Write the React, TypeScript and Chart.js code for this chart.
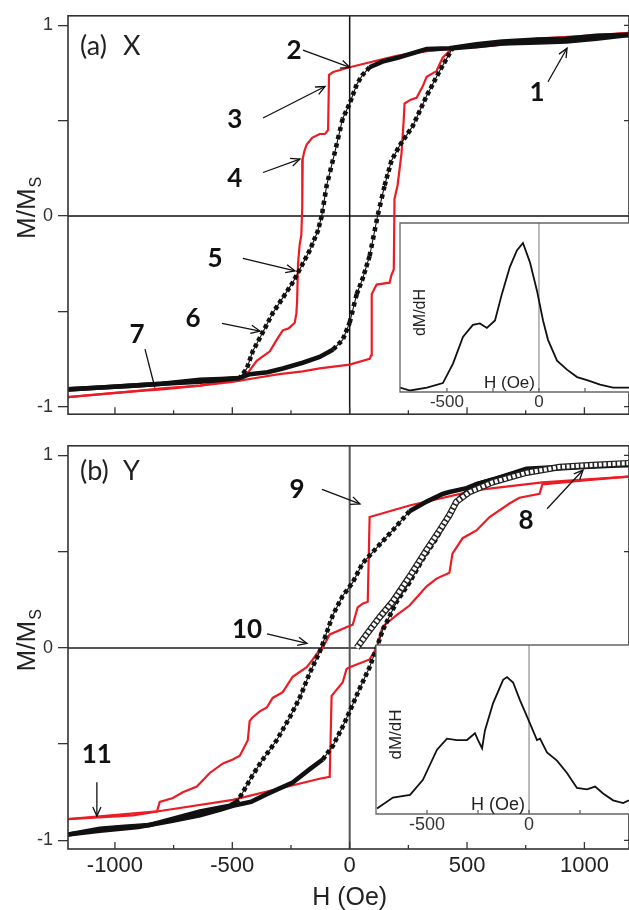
import React, { useEffect, useRef } from "react";
import { Chart, registerables } from "chart.js";

Chart.register(...registerables);

// ---------------- axes ----------------
const X_MIN = -1200;
const X_MAX = 1190;
const X_TICKS = [-1000, -750, -500, -250, 0, 250, 500, 750, 1000];
const X_LABELED = [-1000, -500, 0, 500, 1000];
const Y_TICKS = [-1, -0.5, 0, 0.5, 1];
const Y_LABELED = [-1, 0, 1];
const INSET_TICKS = [-500, -250, 0, 250];
const INSET_LABELED = [-500, 0];

// ---------------- panel (a) X ----------------
const A_BLK_DN_H = [1190, 1050, 923, 800, 650, 540, 425, 328, 204, 140, 85, 55, 30, 0, -30, -64, -98, -119, -136, -170, -204, -243, -285, -328, -370, -413, -438, -468, -550, -638, -800, -923, -1060, -1200];
const A_BLK_DN_M = [0.95, 0.945, 0.93, 0.925, 0.915, 0.9, 0.88, 0.875, 0.83, 0.81, 0.78, 0.74, 0.69, 0.59, 0.51, 0.33, 0.16, 0.0, -0.08, -0.18, -0.26, -0.35, -0.43, -0.51, -0.61, -0.71, -0.8, -0.85, -0.855, -0.86, -0.88, -0.89, -0.9, -0.91];
const A_BLK_UP_H = [-1200, -1060, -923, -800, -638, -550, -468, -426, -350, -285, -200, -128, -70, -30, 0, 30, 55, 85, 119, 149, 178, 213, 268, 328, 383, 438, 540, 650, 800, 923, 1050, 1190];
const A_BLK_UP_M = [-0.91, -0.9, -0.89, -0.88, -0.87, -0.86, -0.85, -0.83, -0.82, -0.8, -0.77, -0.74, -0.7, -0.65, -0.56, -0.41, -0.33, -0.21, 0.0, 0.16, 0.29, 0.37, 0.47, 0.63, 0.76, 0.88, 0.89, 0.905, 0.91, 0.915, 0.93, 0.95];
const A_RED_DN_H = [1190, 1000, 800, 600, 468, 330, 200, 100, 0, -70, -88, -92, -106, -128, -160, -183, -193, -200, -202, -206, -213, -220, -224, -227, -234, -260, -285, -311, -340, -396, -438, -500, -638, -800, -923, -1060, -1200];
const A_RED_DN_M = [0.96, 0.945, 0.93, 0.905, 0.88, 0.865, 0.84, 0.81, 0.78, 0.755, 0.74, 0.45, 0.43, 0.43, 0.41, 0.375, 0.34, 0.3, 0.05, -0.1, -0.15, -0.25, -0.45, -0.51, -0.56, -0.59, -0.6, -0.65, -0.71, -0.76, -0.83, -0.86, -0.89, -0.91, -0.92, -0.935, -0.95];
const A_RED_UP_H = [-1200, -923, -800, -638, -500, -400, -300, -200, -128, 0, 85, 92, 94, 115, 170, 178, 188, 191, 204, 221, 230, 234, 260, 285, 311, 328, 370, 396, 438, 540, 700, 900, 1050, 1190];
const A_RED_UP_M = [-0.95, -0.92, -0.905, -0.89, -0.87, -0.85, -0.83, -0.815, -0.8, -0.78, -0.75, -0.73, -0.41, -0.36, -0.35, -0.31, -0.28, 0.09, 0.16, 0.33, 0.5, 0.59, 0.61, 0.62, 0.68, 0.73, 0.76, 0.83, 0.88, 0.885, 0.905, 0.93, 0.945, 0.96];
// inset (a): dM/dH
const A_INSET_H = [-755, -700, -609, -522, -467, -413, -359, -321, -283, -239, -201, -158, -120, -87, -49, -11, 22, 49, 98, 152, 207, 261, 332, 402, 489];
const A_INSET_V = [0.03, 0.01, 0.03, 0.06, 0.19, 0.37, 0.45, 0.46, 0.43, 0.48, 0.66, 0.84, 0.95, 1.0, 0.87, 0.68, 0.48, 0.35, 0.21, 0.15, 0.1, 0.08, 0.05, 0.03, 0.03];
// annotations (a)
const A_NOTE_TEXT = ["1", "2", "3", "4", "5", "6", "7"];
const A_NOTE_H = [798, -237, -489, -489, -574, -667, -906];
const A_NOTE_M = [0.649, 0.865, 0.504, 0.198, -0.223, -0.539, -0.624];
const A_ARR_FROM_H = [845, -199, -369, -369, -455, -544, -872];
const A_ARR_FROM_M = [0.704, 0.87, 0.514, 0.228, -0.223, -0.564, -0.699];
const A_ARR_TO_H = [926, 1, -105, -212, -233, -382, -830];
const A_ARR_TO_M = [0.88, 0.779, 0.679, 0.298, -0.288, -0.604, -0.9];
const A_ARR_HEAD = [true, true, true, true, true, true, false];

// ---------------- panel (b) Y ----------------
const B_BLK_DN_H = [1187, 1034, 894, 753, 626, 540, 498, 425, 396, 328, 255, 183, 115, 55, 13, -30, -72, -115, -128, -170, -213, -255, -311, -370, -413, -455, -481, -511, -638, -760, -851, -960, -1064, -1200];
const B_BLK_DN_M = [0.95, 0.95, 0.94, 0.93, 0.88, 0.85, 0.83, 0.81, 0.8, 0.76, 0.71, 0.61, 0.52, 0.44, 0.34, 0.27, 0.17, 0.02, -0.02, -0.13, -0.26, -0.36, -0.48, -0.58, -0.66, -0.75, -0.8, -0.82, -0.85, -0.89, -0.92, -0.93, -0.94, -0.97];
const B_BLK_UP_H = [-1200, -1064, -900, -760, -638, -550, -498, -420, -353, -243, -170, -115, -72, -30, 0, 43, 85, 115, 140, 200, 255, 311, 370, 425, 468, 540, 681, 850, 1000, 1187];
const B_BLK_UP_M = [-0.97, -0.95, -0.93, -0.9, -0.87, -0.84, -0.82, -0.8, -0.76, -0.7, -0.63, -0.58, -0.51, -0.41, -0.33, -0.21, -0.1, 0.0, 0.09, 0.24, 0.34, 0.46, 0.57, 0.69, 0.78, 0.85, 0.9, 0.93, 0.94, 0.95];
const B_VIRGIN_H = [30, 72, 128, 183, 255, 328, 383, 425, 455, 511, 608, 753, 894, 1034, 1187];
const B_VIRGIN_M = [0.0, 0.07, 0.16, 0.24, 0.37, 0.51, 0.61, 0.69, 0.76, 0.81, 0.86, 0.91, 0.94, 0.95, 0.96];
const B_RED_DN_H = [1187, 821, 540, 255, 85, 77, 55, 34, 13, -9, -85, -115, -140, -157, -183, -243, -285, -328, -353, -383, -413, -426, -434, -468, -498, -540, -596, -651, -711, -753, -809, -821, -923, -1200];
const B_RED_DN_M = [0.89, 0.86, 0.82, 0.74, 0.68, 0.24, 0.23, 0.21, 0.12, 0.11, 0.07, 0.0, -0.03, -0.06, -0.1, -0.15, -0.23, -0.26, -0.31, -0.33, -0.36, -0.38, -0.48, -0.56, -0.58, -0.6, -0.65, -0.72, -0.75, -0.78, -0.8, -0.85, -0.87, -0.89];
const B_RED_UP_H = [-1200, -821, -498, -128, -85, -77, -64, -30, -13, 0, 85, 115, 140, 200, 255, 328, 370, 425, 438, 481, 540, 596, 681, 723, 809, 821, 1000, 1187];
const B_RED_UP_M = [-0.89, -0.85, -0.79, -0.68, -0.67, -0.25, -0.23, -0.18, -0.11, -0.1, -0.06, 0.0, 0.11, 0.17, 0.22, 0.32, 0.36, 0.39, 0.49, 0.57, 0.61, 0.68, 0.75, 0.78, 0.8, 0.85, 0.87, 0.89];
// inset (b)
const B_INSET_H = [-745, -667, -583, -520, -451, -402, -353, -304, -265, -250, -230, -216, -176, -127, -108, -78, -44, 5, 39, 54, 88, 137, 186, 235, 284, 324, 363, 412, 461, 490];
const B_INSET_V = [0.04, 0.12, 0.14, 0.25, 0.47, 0.55, 0.54, 0.54, 0.59, 0.54, 0.48, 0.61, 0.81, 0.98, 1.0, 0.96, 0.83, 0.66, 0.54, 0.55, 0.45, 0.39, 0.3, 0.19, 0.18, 0.2, 0.15, 0.1, 0.08, 0.1];
// annotations (b)
const B_NOTE_TEXT = ["9", "8", "10", "11"];
const B_NOTE_H = [-224, 751, -437, -1077];
const B_NOTE_M = [0.824, 0.662, 0.093, -0.557];
const B_ARR_FROM_H = [-118, 841, -352, -1077];
const B_ARR_FROM_M = [0.824, 0.723, 0.073, -0.698];
const B_ARR_TO_H = [44, 994, -182, -1077];
const B_ARR_TO_M = [0.748, 0.924, 0.023, -0.874];
const B_ARR_HEAD = [true, true, true, true];

// ---------------- helpers ----------------
const RED = "#ec1c24";
const INK = "#111111";
const AXIS_FONT = '"Liberation Sans", Arial, sans-serif';
const LABEL_FONT = 'Lato, "Open Sans", sans-serif';

const pts = (h: number[], m: number[]) => h.map((x, i) => ({ x, y: m[i] }));

// square markers of the measured loop show up as separate squares where the curve is steep
const squareDash = (ctx: any) => {
  const p0 = ctx.p0, p1 = ctx.p1;
  const dx = Math.abs(p1.x - p0.x);
  const dy = Math.abs(p1.y - p0.y);
  const slope = dy / Math.max(dx, 0.01);
  if (slope < 0.85) return undefined;
  if (slope < 4) return [4.2, 3.0];
  return [4.2, 4.2];
};

function blackBranch(h: number[], m: number[]) {
  const d = pts(h, m);
  return [
    { data: d, borderColor: INK, borderWidth: 4.6, borderCapStyle: "butt", segment: { borderDash: squareDash }, order: 3 },
    { data: d, borderColor: INK, borderWidth: 1.1, order: 2 },
  ];
}
function redBranch(h: number[], m: number[]) {
  return { data: pts(h, m), borderColor: RED, borderWidth: 2.2, order: 4 };
}
function virginBranch(h: number[], m: number[]) {
  const d = pts(h, m);
  return [
    { data: d, borderColor: "#222", borderWidth: 6.5, order: 1 },
    { data: d, borderColor: "#ffffff", borderWidth: 4, borderDash: [3, 1.6], borderCapStyle: "butt", order: 0 },
  ];
}

function drawArrow(ctx: CanvasRenderingContext2D, x1: number, y1: number, x2: number, y2: number, head: boolean) {
  ctx.beginPath();
  ctx.moveTo(x1, y1);
  ctx.lineTo(x2, y2);
  ctx.stroke();
  if (head) {
    const a = Math.atan2(y2 - y1, x2 - x1);
    const L = 10, w = 0.42;
    ctx.beginPath();
    ctx.moveTo(x2 - L * Math.cos(a - w), y2 - L * Math.sin(a - w));
    ctx.lineTo(x2, y2);
    ctx.lineTo(x2 - L * Math.cos(a + w), y2 - L * Math.sin(a + w));
    ctx.stroke();
  }
}

type PanelDecor = {
  id: string;
  tag: string;
  axisName: string;
  tagBaseline: number;
  zeroColor: string;
  zeroWidth: number;
  xTitle: boolean;
  notes: { text: string[]; h: number[]; m: number[]; fh: number[]; fm: number[]; th: number[]; tm: number[]; head: boolean[] };
};

function mainPlugin(p: PanelDecor) {
  return {
    id: p.id,
    beforeDatasetsDraw(chart: any) {
      const { ctx, chartArea: ca, scales } = chart;
      const xs = scales.x, ys = scales.y;
      ctx.save();
      ctx.strokeStyle = p.zeroColor;
      ctx.lineWidth = p.zeroWidth;
      const y0 = ys.getPixelForValue(0);
      const x0 = xs.getPixelForValue(0);
      ctx.beginPath();
      ctx.moveTo(ca.left, y0);
      ctx.lineTo(ca.right, y0);
      ctx.moveTo(x0, ca.top);
      ctx.lineTo(x0, ca.bottom);
      ctx.stroke();
      ctx.restore();
    },
    afterDatasetsDraw(chart: any) {
      const { ctx, chartArea: ca, scales } = chart;
      const xs = scales.x, ys = scales.y;
      ctx.save();
      // frame
      ctx.strokeStyle = "#333";
      ctx.lineWidth = 1.6;
      ctx.strokeRect(ca.left, ca.top, ca.right - ca.left, ca.bottom - ca.top);
      // inward x ticks
      ctx.lineWidth = 1.3;
      ctx.beginPath();
      X_TICKS.forEach((v) => {
        const px = xs.getPixelForValue(v);
        const len = X_LABELED.includes(v) ? 7 : 4;
        ctx.moveTo(px, ca.bottom);
        ctx.lineTo(px, ca.bottom - len);
      });
      // inward right y ticks
      Y_TICKS.forEach((v) => {
        if (v === 0) return;
        const py = ys.getPixelForValue(v);
        ctx.moveTo(ca.right - 5, py);
        ctx.lineTo(ca.right, py);
      });
      ctx.stroke();

      // y title M/M_S
      ctx.fillStyle = "#222";
      ctx.translate(35, (ca.top + ca.bottom) / 2 + 24);
      ctx.rotate(-Math.PI / 2);
      ctx.textAlign = "left";
      ctx.textBaseline = "alphabetic";
      ctx.font = `26px ${AXIS_FONT}`;
      ctx.fillText("M/M", 0, 0);
      const w = ctx.measureText("M/M").width;
      ctx.font = `16px ${AXIS_FONT}`;
      ctx.fillText("S", w + 1, 6);
      ctx.setTransform(1, 0, 0, 1, 0, 0);

      // panel tag
      ctx.fillStyle = "#222";
      ctx.font = `27px ${LABEL_FONT}`;
      ctx.textAlign = "left";
      ctx.fillText(p.tag, ca.left + 12, ca.top + p.tagBaseline);
      ctx.fillText(p.axisName, ca.left + 55, ca.top + p.tagBaseline);

      // x title
      if (p.xTitle) {
        ctx.font = `25px ${AXIS_FONT}`;
        ctx.textAlign = "center";
        ctx.fillText("H (Oe)", xs.getPixelForValue(0), ca.bottom + 56);
      }

      // numbered arrows
      const n = p.notes;
      ctx.strokeStyle = "#111";
      ctx.lineWidth = 1.3;
      ctx.fillStyle = "#111";
      ctx.font = `bold 26px ${LABEL_FONT}`;
      ctx.textAlign = "center";
      ctx.textBaseline = "middle";
      n.text.forEach((t, i) => {
        drawArrow(
          ctx,
          xs.getPixelForValue(n.fh[i]), ys.getPixelForValue(n.fm[i]),
          xs.getPixelForValue(n.th[i]), ys.getPixelForValue(n.tm[i]),
          n.head[i]
        );
        ctx.fillText(t, xs.getPixelForValue(n.h[i]), ys.getPixelForValue(n.m[i]));
      });
      ctx.restore();
    },
  };
}

function mainConfig(datasets: any[], yMin: number, yMax: number, padTop: number, xHeight: number, showXLabels: boolean, plugin: any) {
  return {
    type: "line",
    data: { datasets },
    options: {
      animation: false,
      responsive: false,
      events: [],
      elements: { point: { radius: 0 }, line: { tension: 0, fill: false } },
      layout: { padding: { top: padTop, left: 0, right: 0, bottom: 0 } },
      plugins: { legend: { display: false }, tooltip: { enabled: false } },
      scales: {
        x: {
          type: "linear",
          min: X_MIN,
          max: X_MAX,
          afterBuildTicks: (s: any) => { s.ticks = X_TICKS.map((v) => ({ value: v })); },
          ticks: {
            display: showXLabels,
            autoSkip: false,
            maxRotation: 0,
            padding: 4,
            color: "#222",
            font: { family: AXIS_FONT, size: 22 },
            callback: (v: number) => (X_LABELED.includes(v) ? String(v) : ""),
          },
          grid: { display: false, drawTicks: false },
          border: { display: false },
          afterFit: (s: any) => { s.height = xHeight; },
        },
        y: {
          type: "linear",
          min: yMin,
          max: yMax,
          afterBuildTicks: (s: any) => { s.ticks = Y_TICKS.map((v) => ({ value: v })); },
          ticks: {
            padding: 5,
            color: "#333",
            font: { family: AXIS_FONT, size: 18 },
            callback: (v: number) => (Y_LABELED.includes(v) ? String(v) : ""),
          },
          grid: { display: true, drawOnChartArea: false, drawTicks: true, tickLength: 10, color: "#333", lineWidth: 1.3 },
          border: { display: false },
          afterFit: (s: any) => { s.width = 68; },
        },
      },
    },
    plugins: [plugin],
  };
}

function insetPlugin(id: string, fontSize: number) {
  return {
    id,
    beforeDraw(chart: any) {
      const { ctx, chartArea: ca } = chart;
      ctx.save();
      ctx.fillStyle = "#ffffff";
      ctx.fillRect(ca.left, ca.top, ca.right - ca.left, ca.bottom - ca.top);
      ctx.restore();
    },
    beforeDatasetsDraw(chart: any) {
      const { ctx, chartArea: ca, scales } = chart;
      const x0 = scales.x.getPixelForValue(0);
      ctx.save();
      ctx.strokeStyle = "#777";
      ctx.lineWidth = 1;
      ctx.beginPath();
      ctx.moveTo(x0, ca.top);
      ctx.lineTo(x0, ca.bottom);
      ctx.stroke();
      ctx.restore();
    },
    afterDatasetsDraw(chart: any) {
      const { ctx, chartArea: ca, scales } = chart;
      const xs = scales.x;
      ctx.save();
      ctx.strokeStyle = "#666";
      ctx.lineWidth = 1.3;
      ctx.beginPath();
      ctx.moveTo(ca.right, ca.top);
      ctx.lineTo(ca.left, ca.top);
      ctx.lineTo(ca.left, ca.bottom);
      ctx.lineTo(ca.right, ca.bottom);
      INSET_TICKS.forEach((v) => {
        const px = xs.getPixelForValue(v);
        ctx.moveTo(px, ca.bottom);
        ctx.lineTo(px, ca.bottom - 4);
      });
      ctx.stroke();
      ctx.fillStyle = "#222";
      ctx.font = `${fontSize}px ${AXIS_FONT}`;
      ctx.textAlign = "right";
      ctx.textBaseline = "alphabetic";
      ctx.fillText("H (Oe)", xs.getPixelForValue(0) - 4, ca.bottom - 4);
      ctx.translate(ca.left + 25, (ca.top + ca.bottom) / 2 + 5);
      ctx.rotate(-Math.PI / 2);
      ctx.textAlign = "center";
      ctx.font = `${fontSize - 1}px ${AXIS_FONT}`;
      ctx.fillText("dM/dH", 0, 0);
      ctx.restore();
    },
  };
}

function insetConfig(h: number[], v: number[], xMin: number, xMax: number, yMax: number, fontSize: number, plugin: any) {
  return {
    type: "line",
    data: { datasets: [{ data: pts(h, v), borderColor: INK, borderWidth: 1.8 }] },
    options: {
      animation: false,
      responsive: false,
      events: [],
      elements: { point: { radius: 0 }, line: { tension: 0, fill: false } },
      layout: { padding: { top: 8, left: 20, right: 0, bottom: 0 } },
      plugins: { legend: { display: false }, tooltip: { enabled: false } },
      scales: {
        x: {
          type: "linear",
          min: xMin,
          max: xMax,
          afterBuildTicks: (s: any) => { s.ticks = INSET_TICKS.map((t) => ({ value: t })); },
          ticks: {
            autoSkip: false,
            maxRotation: 0,
            padding: 0,
            color: "#333",
            font: { family: AXIS_FONT, size: fontSize },
            callback: (t: number) => (INSET_LABELED.includes(t) ? String(t) : ""),
          },
          grid: { display: false, drawTicks: false },
          border: { display: false },
          afterFit: (s: any) => { s.height = 23; },
        },
        y: { type: "linear", display: false, min: 0, max: yMax },
      },
    },
    plugins: [plugin],
  };
}

export default function App() {
  const aRef = useRef<HTMLCanvasElement>(null);
  const bRef = useRef<HTMLCanvasElement>(null);
  const aiRef = useRef<HTMLCanvasElement>(null);
  const biRef = useRef<HTMLCanvasElement>(null);

  useEffect(() => {
    const dsA = [
      redBranch(A_RED_DN_H, A_RED_DN_M),
      redBranch(A_RED_UP_H, A_RED_UP_M),
      ...blackBranch(A_BLK_DN_H, A_BLK_DN_M),
      ...blackBranch(A_BLK_UP_H, A_BLK_UP_M),
    ];
    const dsB = [
      redBranch(B_RED_DN_H, B_RED_DN_M),
      redBranch(B_RED_UP_H, B_RED_UP_M),
      ...blackBranch(B_BLK_DN_H, B_BLK_DN_M),
      ...blackBranch(B_BLK_UP_H, B_BLK_UP_M),
      ...virginBranch(B_VIRGIN_H, B_VIRGIN_M),
    ];
    const plugA = mainPlugin({
      id: "decorA", tag: "(a)", axisName: "X", tagBaseline: 39, zeroColor: "#111", zeroWidth: 1.5, xTitle: false,
      notes: { text: A_NOTE_TEXT, h: A_NOTE_H, m: A_NOTE_M, fh: A_ARR_FROM_H, fm: A_ARR_FROM_M, th: A_ARR_TO_H, tm: A_ARR_TO_M, head: A_ARR_HEAD },
    });
    const plugB = mainPlugin({
      id: "decorB", tag: "(b)", axisName: "Y", tagBaseline: 34, zeroColor: "#555", zeroWidth: 2, xTitle: true,
      notes: { text: B_NOTE_TEXT, h: B_NOTE_H, m: B_NOTE_M, fh: B_ARR_FROM_H, fm: B_ARR_FROM_M, th: B_ARR_TO_H, tm: B_ARR_TO_M, head: B_ARR_HEAD },
    });
    const charts = [
      new Chart(aRef.current as any, mainConfig(dsA, -1.04, 1.05, 8, 5, false, plugA) as any),
      new Chart(bRef.current as any, mainConfig(dsB, -1.045, 1.05, 3, 61, true, plugB) as any),
      new Chart(aiRef.current as any, insetConfig(A_INSET_H, A_INSET_V, -755, 489, 1.134, 17, insetPlugin("insetA", 17)) as any),
      new Chart(biRef.current as any, insetConfig(B_INSET_H, B_INSET_V, -750, 490, 1.234, 18, insetPlugin("insetB", 18)) as any),
    ];
    return () => charts.forEach((c) => c.destroy());
  }, []);

  const abs = (left: number, top: number): React.CSSProperties => ({ position: "absolute", left, top, display: "block" });

  return (
    <div style={{ position: "absolute", left: 0, top: 0, width: 629, height: 910, background: "#ffffff", overflow: "hidden" }}>
      <canvas ref={aRef} width={629} height={430} style={abs(0, 0)} />
      <canvas ref={bRef} width={629} height={480} style={abs(0, 430)} />
      <canvas ref={aiRef} width={249} height={200} style={abs(380, 215)} />
      <canvas ref={biRef} width={273} height={200} style={abs(356, 637)} />
    </div>
  );
}
